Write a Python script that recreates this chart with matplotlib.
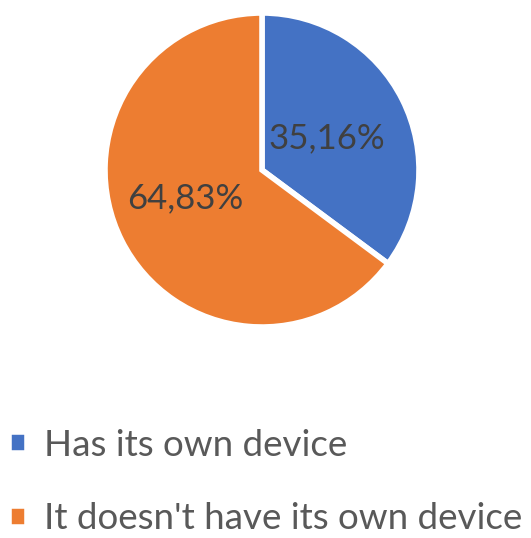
import matplotlib.pyplot as plt

categories = ["Has its own device", "It doesn't have its own device"]
shares = [35.16, 64.83]
share_labels = ["35,16%", "64,83%"]
colors = ["#4472C4", "#ED7D31"]

plt.rcParams['font.family'] = ['Lato', 'DejaVu Sans']

fig = plt.figure(figsize=(5.31, 5.38), dpi=100)
W, H = 531, 538
cx, cy, r = 262, 170, 157
ax = fig.add_axes([(cx - r) / W, (H - cy - r) / H, 2 * r / W, 2 * r / H])

wedges, _ = ax.pie(shares, colors=colors, startangle=90, counterclock=False,
                   wedgeprops=dict(edgecolor='white', linewidth=4))
ax.set_xlim(-1, 1)
ax.set_ylim(-1, 1)
ax.set_aspect('equal')

# label spots inside each slice (pie radius = 1)
label_pos = [(0.415, 0.205), (-0.49, -0.18)]
for (x, y), lab in zip(label_pos, share_labels):
    ax.text(x, y, lab, ha='center', va='center', fontsize=25, color='#404040')

fig.legend(wedges, categories, loc='upper left', bbox_to_anchor=(9 / W, 1 - 429 / H),
           frameon=False, fontsize=26.5, labelcolor='#595959', handlelength=0.5,
           handleheight=0.5, handletextpad=0.45, labelspacing=1.1, borderaxespad=0,
           borderpad=0)

fig.savefig('out.png', dpi=100)
